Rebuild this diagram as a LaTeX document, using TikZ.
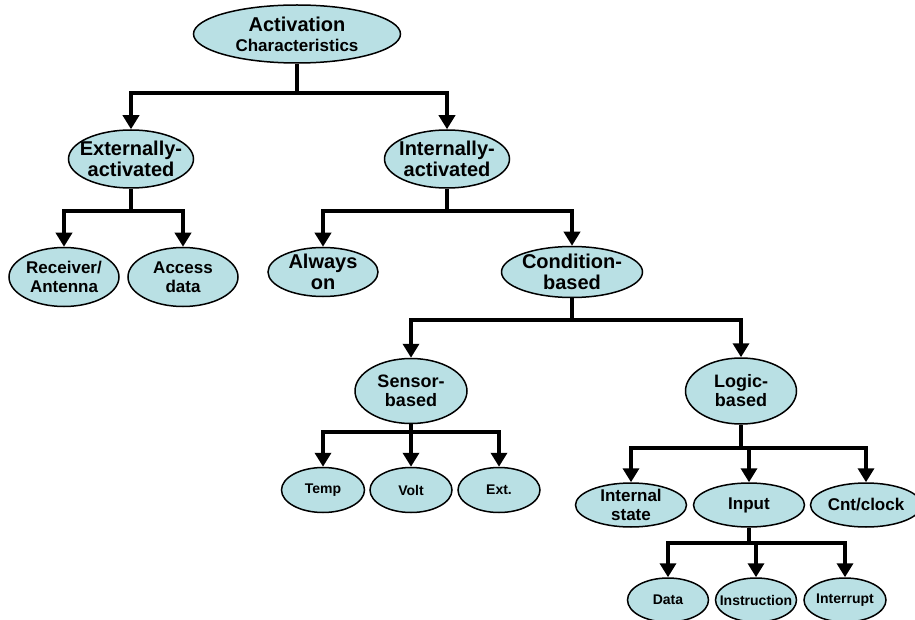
\documentclass[tikz,border=0pt]{standalone}
\usepackage{fontspec}
\setmainfont{Liberation Sans}
\usetikzlibrary{shapes.geometric,arrows.meta}
\definecolor{bubblefill}{RGB}{185,224,228}

\tikzset{
  bubble/.style={ellipse, draw, line width=1.5pt, fill=bubblefill, inner sep=0pt},
  bigtext/.style={font=\bfseries\fontsize{20}{21}\selectfont, align=center, inner sep=0pt},
  midtext/.style={font=\bfseries\fontsize{17}{19.5}\selectfont, align=center, inner sep=0pt},
  smalltext/.style={font=\bfseries\fontsize{14}{16}\selectfont, align=center, inner sep=0pt},
  link/.style={line width=3.8pt},
  arrow/.style={link, -{Triangle[length=14pt,width=16pt]}},
}

\begin{document}
\begin{tikzpicture}[x=1pt, y=-1pt]
  \useasboundingbox (0,0) rectangle (915,620);

  % top levels
  \node [bubble, minimum width=207pt, minimum height=58pt,
    label={[bigtext]center:{Activation\\[-1pt]{\fontsize{17}{17}\selectfont Characteristics}}}] (act) at (297,34) {};
  \node [bubble, minimum width=125pt, minimum height=58pt, label={[bigtext]center:{Externally-\\activated}}] (ext) at (131,159) {};
  \node [bubble, minimum width=125pt, minimum height=58pt, label={[bigtext]center:{Internally-\\activated}}] (int) at (447,159) {};

  \node [bubble, minimum width=110pt, minimum height=59pt, label={[midtext]center:{Receiver/\\Antenna}}] (rcv) at (64,277) {};
  \node [bubble, minimum width=110pt, minimum height=59pt, label={[midtext]center:{Access\\data}}] (acc) at (183,277) {};
  \node [bubble, minimum width=110pt, minimum height=49pt, label={[bigtext]center:{Always\\on}}] (alw) at (323,272) {};
  \node [bubble, minimum width=141pt, minimum height=51pt, label={[bigtext]center:{Condition-\\based}}] (cnd) at (572,272) {};

  \node [bubble, minimum width=112pt, minimum height=65pt,
    label={[midtext, font=\bfseries\fontsize{18}{19}\selectfont]center:{Sensor-\\based}}] (sns) at (411,391) {};
  \node [bubble, minimum width=111pt, minimum height=66pt,
    label={[midtext, font=\bfseries\fontsize{18}{19}\selectfont]center:{Logic-\\based}}] (lgc) at (741,391) {};

  % leaves
  \node [bubble, minimum width=83pt, minimum height=45pt, label={[smalltext]center:Temp}] (tmp) at (323,490) {};
  \node [bubble, minimum width=82pt, minimum height=45pt, label={[smalltext]center:Volt}] (vlt) at (411,490) {};
  \node [bubble, minimum width=82pt, minimum height=45pt, label={[smalltext]center:Ext.}] (xtn) at (499,490) {};

  \node [bubble, minimum width=111pt, minimum height=44pt, label={[midtext]center:{Internal\\state}}] (ist) at (631,505) {};
  \node [bubble, minimum width=111pt, minimum height=44pt, label={[midtext]center:Input}] (inp) at (749,505) {};
  \node [bubble, minimum width=111pt, minimum height=44pt, label={[midtext]center:Cnt/clock}] (cnt) at (866,505) {};

  \node [bubble, minimum width=81pt, minimum height=44pt, label={[smalltext]center:Data}] (dat) at (668,600) {};
  \node [bubble, minimum width=81pt, minimum height=44pt, label={[smalltext]center:Instruction}] (ins) at (756,600) {};
  \node [bubble, minimum width=82pt, minimum height=44pt, label={[smalltext]center:Interrupt}] (irq) at (845,600) {};

  % connectors
  \draw [link] (act.south) -- ++(0,29) coordinate (b1);
  \draw [arrow] (b1) -| (ext.north);
  \draw [arrow] (b1) -| (int.north);

  \draw [link] (ext.south) -- ++(0,22) coordinate (b2);
  \draw [arrow] (b2) -| (rcv.north);
  \draw [arrow] (b2) -| (acc.north);

  \draw [link] (int.south) -- ++(0,22) coordinate (b3);
  \draw [arrow] (b3) -| (alw.north);
  \draw [arrow] (b3) -| (cnd.north);

  \draw [link] (cnd.south) -- ++(0,22) coordinate (b4);
  \draw [arrow] (b4) -| (sns.north);
  \draw [arrow] (b4) -| (lgc.north);

  \draw [link] (sns.south) -- ++(0,8) coordinate (b5);
  \draw [arrow] (b5) -| (tmp.north);
  \draw [arrow] (b5) -| (vlt.north);
  \draw [arrow] (b5) -| (xtn.north);

  \draw [link] (lgc.south) -- ++(0,23) coordinate (b6);
  \draw [arrow] (b6) -| (ist.north);
  \draw [arrow] (b6) -| (inp.north);
  \draw [arrow] (b6) -| (cnt.north);

  \draw [link] (inp.south) -- ++(0,15) coordinate (b7);
  \draw [arrow] (b7) -| (dat.north);
  \draw [arrow] (b7) -| (ins.north);
  \draw [arrow] (b7) -| (irq.north);
\end{tikzpicture}
\end{document}
